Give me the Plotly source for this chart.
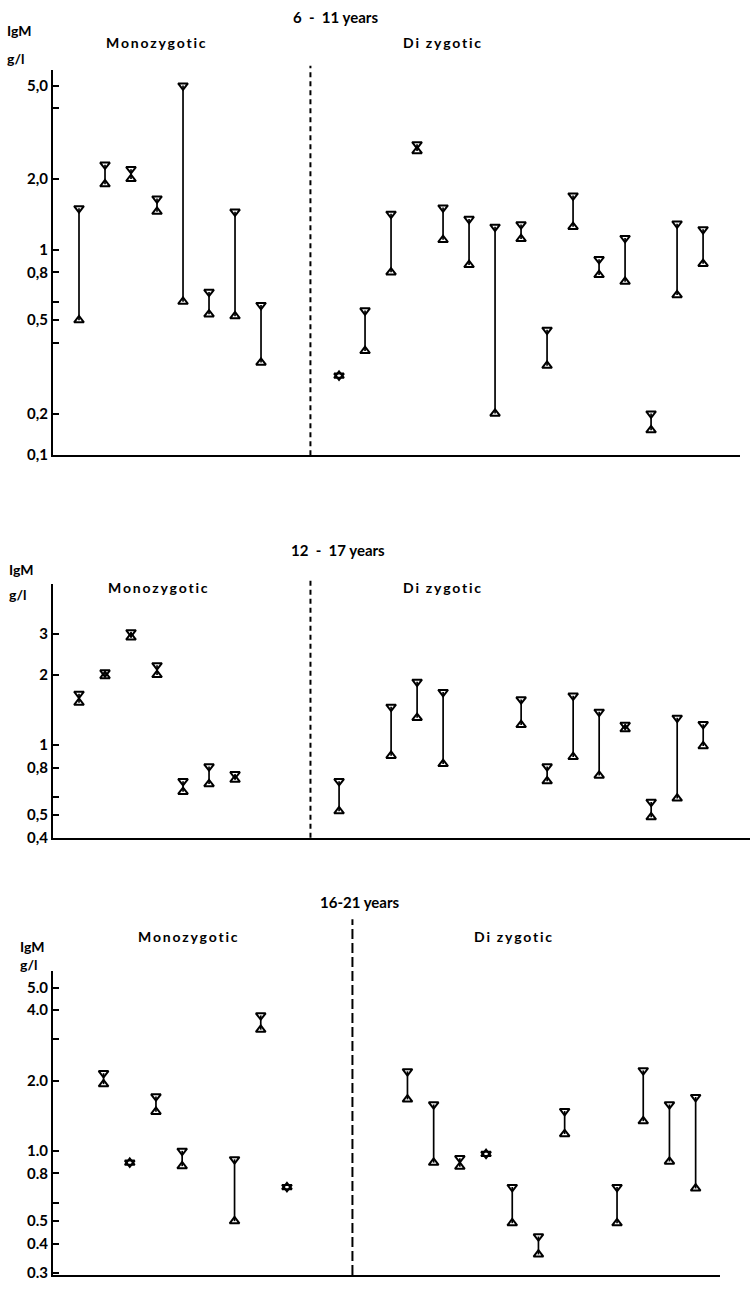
import math
import plotly.graph_objects as go

W, H = 750, 1289

# ---------------- data (IgM g/l, twin pair: higher twin / lower twin) ----------------
# Panel 1: 6 - 11 years
p1_mz_x = [1, 2, 3, 4, 5, 6, 7, 8]
p1_mz_hi = [1.5, 2.3, 2.2, 1.65, 5.0, 0.66, 1.45, 0.58]
p1_mz_lo = [0.5, 1.9, 2.0, 1.45, 0.6, 0.53, 0.52, 0.33]
p1_dz_x = [11, 12, 13, 14, 15, 16, 17, 18, 19, 20, 21, 22, 23, 24, 25]
p1_dz_hi = [0.29, 0.55, 1.42, 2.81, 1.51, 1.35, 1.25, 1.28, 0.455, 1.70, 0.91, 1.12, 0.20, 1.29, 1.22]
p1_dz_lo = [0.29, 0.37, 0.80, 2.63, 1.10, 0.86, 0.20, 1.11, 0.32, 1.25, 0.78, 0.73, 0.17, 0.64, 0.87]
p1_tickvals = [5.0, 4.0, 2.0, 1.0, 0.8, 0.6, 0.5, 0.4, 0.2, 0.133]
p1_ticktext = ["5,0", "", "2,0", "1", "0,8", "", "0,5", "", "0,2", "0,1"]

# Panel 2: 12 - 17 years
p2_mz_x = [1, 2, 3, 4, 5, 6, 7]
p2_mz_hi = [1.66, 2.05, 3.05, 2.2, 0.70, 0.81, 0.75]
p2_mz_lo = [1.52, 1.98, 2.9, 2.0, 0.63, 0.68, 0.71]
p2_dz_x = [11, 13, 14, 15, 18, 19, 20, 21, 22, 23, 24, 25]
p2_dz_hi = [0.70, 1.46, 1.87, 1.69, 1.57, 0.81, 1.63, 1.39, 1.22, 0.57, 1.31, 1.23]
p2_dz_lo = [0.52, 0.90, 1.31, 0.83, 1.22, 0.70, 0.89, 0.74, 1.17, 0.49, 0.59, 0.99]
p2_tickvals = [3, 2, 1, 0.8, 0.6, 0.5, 0.4]
p2_ticktext = ["3", "2", "1", "0,8", "", "0,5", "0,4"]

# Panel 3: 16-21 years
p3_mz_x = [2, 3, 4, 5, 7, 8, 9]
p3_mz_hi = [2.15, 0.89, 1.71, 1.0, 0.92, 3.8, 0.70]
p3_mz_lo = [1.93, 0.89, 1.47, 0.86, 0.50, 3.3, 0.70]
p3_dz_x = [13.6, 14.6, 15.6, 16.6, 17.6, 18.6, 19.6, 21.6, 22.6, 23.6, 24.6]
p3_dz_hi = [2.19, 1.58, 0.93, 0.97, 0.70, 0.43, 1.48, 0.70, 2.21, 1.58, 1.70]
p3_dz_lo = [1.66, 0.89, 0.855, 0.97, 0.49, 0.36, 1.18, 0.49, 1.34, 0.90, 0.69]
p3_tickvals = [5.0, 4.0, 3.0, 2.0, 1.0, 0.8, 0.6, 0.5, 0.4, 0.3]
p3_ticktext = ["5.0", "4.0", "", "2.0", "1.0", "0.8", "", "0.5", "0.4", "0.3"]

titles = ["6  -  11 years", "12  -  17 years", "16-21 years"]
group_labels = ["Monozygotic", "Di zygotic"]

# ---------------- layout geometry (pixels) ----------------
panels = [
    dict(x=(53, 740), y=(70, 458), xr=[0, 26.42], yr=[0.133, 5.85], div=9.9, div_top=1.01, dash="5px,4px",
         mz=(p1_mz_x, p1_mz_hi, p1_mz_lo), dz=(p1_dz_x, p1_dz_hi, p1_dz_lo),
         tv=p1_tickvals, tt=p1_ticktext,
         title=(335, 17), igm=(5, 31), gl=(5, 59), mono=(156, 43), di=(442, 43)),
    dict(x=(53, 750), y=(588, 843), xr=[0, 26.8], yr=[0.4, 4.9], div=9.9, div_top=1.02, dash="5px,4px",
         mz=(p2_mz_x, p2_mz_hi, p2_mz_lo), dz=(p2_dz_x, p2_dz_hi, p2_dz_lo),
         tv=p2_tickvals, tt=p2_ticktext,
         title=(338, 553), igm=(7, 573), gl=(7, 598), mono=(158, 591), di=(442, 591)),
    dict(x=(53, 720), y=(977, 1283), xr=[0.07, 25.53], yr=[0.294, 5.89], div=11.5, div_top=1.17, dash="10px,4px",
         mz=(p3_mz_x, p3_mz_hi, p3_mz_lo), dz=(p3_dz_x, p3_dz_hi, p3_dz_lo),
         tv=p3_tickvals, tt=p3_ticktext,
         title=(360, 908), igm=(18, 952), gl=(18, 971), mono=(188, 942), di=(513, 942)),
]

FONT = dict(family="Lato, DejaVu Sans, sans-serif", color="black", weight="bold")


def spaced(s):
    return "\u2009".join(s)


fig = go.Figure()
annotations = []
shapes = []

for i, p in enumerate(panels):
    n = "" if i == 0 else str(i + 1)
    xa, ya = "x" + n, "y" + n
    for (gx, ghi, glo) in (p["mz"], p["dz"]):
        lx, ly = [], []
        for xv, h, l in zip(gx, ghi, glo):
            lx += [xv, xv, None]
            ly += [l, h, None]
        fig.add_trace(go.Scatter(x=lx, y=ly, mode="lines", line=dict(color="black", width=1.7),
                                 xaxis=xa, yaxis=ya, showlegend=False, hoverinfo="skip"))
        fig.add_trace(go.Scatter(x=gx, y=ghi, mode="markers",
                                 marker=dict(symbol="triangle-down-open", size=8.5, color="black",
                                             line=dict(width=2, color="black")),
                                 xaxis=xa, yaxis=ya, showlegend=False))
        fig.add_trace(go.Scatter(x=gx, y=glo, mode="markers",
                                 marker=dict(symbol="triangle-up-open", size=8.5, color="black",
                                             line=dict(width=2, color="black")),
                                 xaxis=xa, yaxis=ya, showlegend=False))

    xdom = [p["x"][0] / W, p["x"][1] / W]
    ydom = [1 - p["y"][1] / H, 1 - p["y"][0] / H]
    fig.update_layout(**{
        "xaxis" + n: dict(domain=xdom, range=p["xr"], anchor=ya, showline=True, linewidth=2,
                          linecolor="black", showgrid=False, zeroline=False, showticklabels=False,
                          ticks=""),
        "yaxis" + n: dict(domain=ydom, type="log",
                          range=[math.log10(p["yr"][0]), math.log10(p["yr"][1])],
                          anchor=xa, showline=True, linewidth=2, linecolor="black",
                          showgrid=False, zeroline=False, ticks="inside", ticklen=6, tickwidth=1.5,
                          tickcolor="black", tickvals=p["tv"], ticktext=p["tt"],
                          tickfont=dict(size=15, **FONT)),
    })

    shapes.append(dict(type="line", xref=xa, yref=ya + " domain", x0=p["div"], x1=p["div"],
                       y0=0, y1=p["div_top"], line=dict(color="black", width=2, dash=p["dash"])))

    def ann(txt, pos, anchor="center", size=14):
        annotations.append(dict(text=txt, xref="paper", yref="paper", x=pos[0] / W, y=1 - pos[1] / H,
                                xanchor=anchor, yanchor="middle", showarrow=False,
                                font=dict(size=size, **FONT)))

    ann(titles[i], p["title"], size=15)
    ann("IgM", p["igm"], anchor="left", size=14)
    ann("g/l", p["gl"], anchor="left", size=14)
    ann(spaced(group_labels[0]), p["mono"], size=14)
    ann(spaced(group_labels[1]), p["di"], size=14)

fig.update_layout(width=W, height=H, margin=dict(l=0, r=0, t=0, b=0),
                  paper_bgcolor="white", plot_bgcolor="white",
                  annotations=annotations, shapes=shapes, showlegend=False)

fig.write_html("out.html")
